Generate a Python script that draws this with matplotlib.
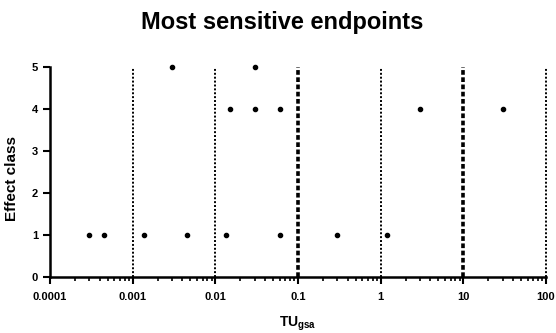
import matplotlib.pyplot as plt

plt.rcParams['font.family'] = ['Liberation Sans', 'DejaVu Sans']
plt.rcParams['mathtext.fontset'] = 'custom'
plt.rcParams['mathtext.rm'] = 'Liberation Sans:bold'
plt.rcParams['mathtext.bf'] = 'Liberation Sans:bold'

# data
tu = [0.0003, 0.00045, 0.00136, 0.0045, 0.0135, 0.06, 0.3, 1.2,
      0.015, 0.03, 0.06, 3, 30,
      0.003, 0.03]
effect = [1, 1, 1, 1, 1, 1, 1, 1,
          4, 4, 4, 4, 4,
          5, 5]

# dotted reference lines
ref_x = [0.001, 0.01, 0.1, 1, 10, 100]
ref_w = [1.4, 1.4, 2.6, 1.4, 2.6, 1.4]

x_ticks = [0.0001, 0.001, 0.01, 0.1, 1, 10, 100]
x_labels = ['0.0001', '0.001', '0.01', '0.1', '1', '10', '100']

fig = plt.figure(figsize=(5.56, 3.33), dpi=100)
ax = fig.add_axes([0.09, 0.168, 0.892, 0.631])

for x, w in zip(ref_x, ref_w):
    if w > 2:
        ls = (0, (1.3, 0.7))
    else:
        ls = (0, (1, 1))
    ax.plot([x, x], [0, 5], color='black', linestyle=ls, linewidth=w,
            zorder=1, clip_on=False)

ax.scatter(tu, effect, s=9, color='black', zorder=3, clip_on=False)

ax.set_xscale('log')
ax.set_xlim(0.0001, 100)
ax.set_ylim(0, 5)
ax.set_xticks(x_ticks)
ax.set_xticklabels(x_labels)
ax.set_yticks([0, 1, 2, 3, 4, 5])

for s in ['top', 'right']:
    ax.spines[s].set_visible(False)
for s in ['left', 'bottom']:
    ax.spines[s].set_linewidth(1.8)

ax.tick_params(which='major', length=5, width=1.5, labelsize=8, direction='out')
ax.tick_params(axis='x', which='major', pad=6)
ax.tick_params(which='minor', length=3, width=1.2, direction='out')
for lab in ax.get_xticklabels() + ax.get_yticklabels():
    lab.set_fontweight('bold')

ax.set_xlabel('TU$_{\\mathrm{gsa}}$', fontsize=10, fontweight='bold', labelpad=9)
ax.set_ylabel('Effect class', fontsize=11, fontweight='bold')
ax.yaxis.set_label_coords(-0.062, 0.47)
fig.text(0.507, 0.932, 'Most sensitive endpoints', fontsize=17,
         fontweight='bold', ha='center', va='center')

fig.savefig('out.png', dpi=100)
